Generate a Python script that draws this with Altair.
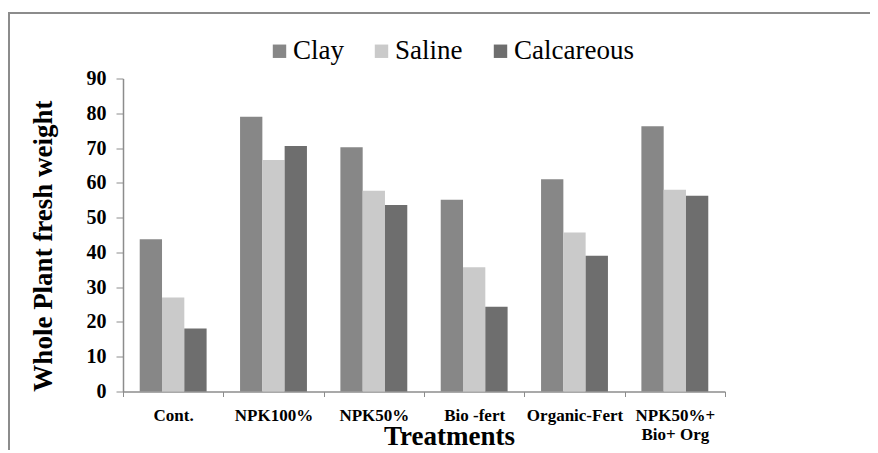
import altair as alt
import pandas as pd

categories = ["Cont.", "NPK100%", "NPK50%", "Bio -fert", "Organic-Fert", "NPK50%+ Bio+ Org"]
series = ["Clay", "Saline", "Calcareous"]
clay = [43.8, 79.0, 70.2, 55.1, 61.0, 76.3]
saline = [27.0, 66.6, 57.7, 35.7, 45.7, 58.0]
calcareous = [18.1, 70.6, 53.6, 24.4, 39.0, 56.3]
y_ticks = [0, 10, 20, 30, 40, 50, 60, 70, 80, 90]
colors = ["#878787", "#cacaca", "#6e6e6e"]

rows = []
for i, c in enumerate(categories):
    for s, vals in zip(series, [clay, saline, calcareous]):
        rows.append({"Treatment": c, "Soil": s, "Value": vals[i]})
df = pd.DataFrame(rows)

FONT = "Liberation Serif"

bars = alt.Chart(df).mark_bar().encode(
    x=alt.X(
        "Treatment:N",
        sort=categories,
        scale=alt.Scale(paddingInner=0, paddingOuter=0),
        axis=alt.Axis(
            title="Treatments",
            titleFont=FONT,
            titleFontSize=27,
            titleFontWeight="bold",
            titleColor="black",
            titleX=326,
            titleY=53,
            titleBaseline="alphabetic",
            titleAlign="center",
            labelFont=FONT,
            labelFontSize=17,
            labelFontWeight="bold",
            labelColor="black",
            labelAngle=0,
            labelPadding=11,
            labelLineHeight=19,
            labelExpr="datum.label == 'NPK50%+ Bio+ Org' ? ['NPK50%+', 'Bio+ Org'] : datum.label",
            tickBand="extent",
            tickSize=5,
            tickColor="#8c8c8c",
            domainColor="#8c8c8c",
            domainWidth=1.5,
        ),
    ),
    xOffset=alt.XOffset(
        "Soil:N",
        sort=series,
        scale=alt.Scale(paddingInner=0, paddingOuter=0.75),
    ),
    y=alt.Y(
        "Value:Q",
        scale=alt.Scale(domain=[0, 90], nice=False),
        axis=alt.Axis(
            title="Whole Plant fresh weight",
            titleFont=FONT,
            titleFontSize=27,
            titleFontWeight="bold",
            titleColor="black",
            titleX=-72,
            titleY=167,
            titleBaseline="alphabetic",
            titleAlign="center",
            titleAngle=270,
            values=y_ticks,
            labelFont=FONT,
            labelFontSize=20,
            labelFontWeight="bold",
            labelColor="black",
            labelPadding=10,
            tickSize=7,
            tickColor="#8c8c8c",
            domainColor="#8c8c8c",
            domainWidth=1.5,
            grid=False,
        ),
    ),
    color=alt.Color(
        "Soil:N",
        sort=series,
        scale=alt.Scale(domain=series, range=colors),
        legend=alt.Legend(
            title=None,
            orient="none",
            direction="horizontal",
            legendX=143,
            legendY=-41,
            symbolType="square",
            symbolSize=180,
            symbolStrokeWidth=0,
            symbolOpacity=1,
            labelFont=FONT,
            labelFontSize=27,
            labelColor="black",
            labelOffset=0,
            columnPadding=24,
            padding=0,
        ),
    ),
)

frame_data = alt.Data(values=[{"k": 1}])
left_border = alt.Chart(frame_data).mark_rule(color="#8c8c8c", strokeWidth=2, clip=False).encode(
    x=alt.value(-114), y=alt.value(-65.5), y2=alt.value(380)
)
top_border = alt.Chart(frame_data).mark_rule(color="#8c8c8c", strokeWidth=2, clip=False).encode(
    x=alt.value(-115), x2=alt.value(760), y=alt.value(-65.5)
)

chart = alt.layer(bars, left_border, top_border).properties(
    width=602,
    height=313,
    autosize=alt.AutoSizeParams(type="none"),
    padding={"left": 115, "top": 70.5, "right": 145, "bottom": 58},
).configure(background="white", font=FONT).configure_view(stroke=None).configure_legend(
    labelFont=FONT
).configure_axis(labelFont=FONT, titleFont=FONT)

chart.save("out.html", embed_options={"renderer": "svg", "actions": False})
